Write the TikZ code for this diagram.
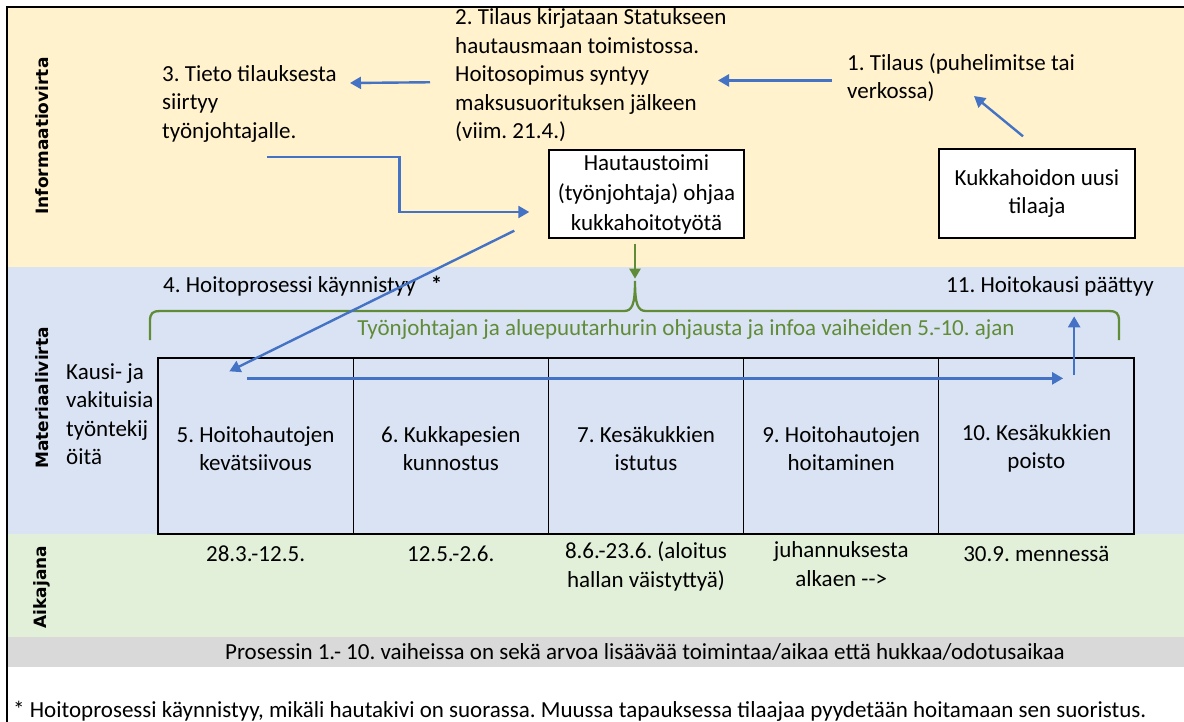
\documentclass[tikz,border=0pt]{standalone}
\usepackage{fontspec}
\setmainfont{Carlito}
\newfontfamily\bandfont{DejaVu Sans}
\usepackage{xcolor}
\usetikzlibrary{positioning, arrows.meta}
\frenchspacing

\definecolor{infoyellow}{HTML}{FFF2CC}
\definecolor{matblue}{HTML}{DAE3F3}
\definecolor{timegreen}{HTML}{E2F0D9}
\definecolor{notegray}{HTML}{D9D9D9}
\definecolor{flowblue}{HTML}{4472C4}
\definecolor{guidegreen}{RGB}{96,140,56}

\begin{document}
\begin{tikzpicture}[
  x=1pt, y=-1pt,
  font=\fontsize{23}{28.5}\selectfont,
  txt/.style={inner sep=0pt, align=left, anchor=north west, execute at begin node=\strut},
  band/.style={font=\bandfont\bfseries\fontsize{17}{20}\selectfont, rotate=90},
  box/.style={rectangle, draw, line width=1.4pt, fill=white, align=center, minimum width=195pt, minimum height=88pt, inner sep=0pt},
  stepbox/.style={rectangle, draw, line width=1.3pt, minimum width=195.2pt, minimum height=176pt, inner sep=0pt},
  steptxt/.style={align=center, inner sep=0pt},
  datetxt/.style={align=center, inner sep=0pt, execute at begin node=\strut},
  flow/.style={draw=flowblue, line width=2.4pt, -{Triangle[width=12pt,length=11pt]}},
  guide/.style={draw=guidegreen, line width=2.3pt}
]
\useasboundingbox (0,0) rectangle (1184,722);

% Draw background bands
\fill[infoyellow] (7,7) rectangle (1184,267);
\fill[matblue] (7,267) rectangle (1184,534);
\fill[timegreen] (7,534) rectangle (1184,637);
\fill[notegray] (7,637) rectangle (1184,667);
\draw[line width=1.5pt] (7,722) -- (7,7) -- (1184,7);

\node[band] (infoband) at (42,136) {Informaatiovirta};
\node[band] (matband) at (42,398) {Materiaalivirta};
\node[band] (timeband) at (42,587) {Aikajana};

% Draw process steps and their dates
\foreach \step/\when [count=\i] in {
  {5. Hoitohautojen\\kevätsiivous}/{28.3.-12.5.},
  {6. Kukkapesien\\kunnostus}/{12.5.-2.6.},
  {7. Kesäkukkien\\istutus}/{8.6.-23.6. (aloitus\\hallan väistyttyä)},
  {9. Hoitohautojen\\hoitaminen}/{juhannuksesta\\alkaen -{}->},
  {10. Kesäkukkien\\poisto}/{30.9. mennessä}} {
  \node[stepbox] at (158+195.2*\i-97.6, 446) (s\i) {};
  \node[steptxt] at ([yshift=-2.5pt]s\i.center) (t\i) {\step};
  \node[datetxt, below=7pt of s\i] (d\i) {\when};
}

% Information flow texts and boxes
\node[txt] (order2) at (455,8.8) {2. Tilaus kirjataan Statukseen\\hautausmaan toimistossa.\\Hoitosopimus syntyy\\maksusuorituksen jälkeen\\(viim. 21.4.)};
\node[txt] (info3) at (162,65.3) {3. Tieto tilauksesta\\siirtyy\\työnjohtajalle.};
\node[txt] (order1) at (847,53.3) {1. Tilaus (puhelimitse tai\\verkossa)};
\node[box, font=\fontsize{23}{30}\selectfont] (hautaus) at (646.5,194) {Hautaustoimi\\(työnjohtaja) ohjaa\\kukkahoitotyötä};
\node[box, minimum width=196pt, minimum height=89pt] (tilaaja) at (1037,193.5) {Kukkahoidon uusi\\tilaaja};

% Material flow texts
\node[txt] (start4) at (163,272.3) {4. Hoitoprosessi käynnistyy\hspace{15pt}\textbf{*}};
\node[txt] (end11) at (946,272.3) {11. Hoitokausi päättyy};
\node[txt, anchor=north, text=guidegreen] (guidetext) at (686,315.3) {Työnjohtajan ja aluepuutarhurin ohjausta ja infoa vaiheiden 5.-10. ajan};
\node[txt] (staff) at (66,363.3) {Kausi- ja\\vakituisia\\työntekij\\öitä};

% Notes at the bottom
\node[txt, anchor=north] (waste) at (645,639.3) {Prosessin 1.- 10. vaiheissa on sekä arvoa lisäävää toimintaa/aikaa että hukkaa/odotusaikaa};
\node[txt] (note) at (13,697.5) {* Hoitoprosessi käynnistyy, mikäli hautakivi on suorassa. Muussa tapauksessa tilaajaa pyydetään hoitamaan sen suoristus.};

% Guidance brace
\draw[guide] (150,340) -- (150,321) .. controls (150,313) and (153,311) .. (160,311)
  -- (624,311) .. controls (632,311) and (635,305) .. (635,281)
  .. controls (635,305) and (638,311) .. (646,311) -- (1109,311)
  .. controls (1116,311) and (1119,313) .. (1119,321) -- (1119,340);
\draw[guide, -{Triangle[width=11pt,length=10pt]}] ([xshift=-11.5pt,yshift=-5pt]hautaus.south) -- ([xshift=-11.5pt,yshift=-40pt]hautaus.south);

% Arrows between the phases
\coordinate (tip1) at (974,96);
\coordinate (tip3) at (350,83);
\draw[flow] ([xshift=-14pt,yshift=12pt]tilaaja.north) -- (tip1);
\draw[flow] ([xshift=-15pt]order1.west) -- ([xshift=-129pt]order1.west);
\draw[flow] ([xshift=-25pt,yshift=-4pt]order2.west) -- (tip3);
\draw[flow] ([xshift=105pt,yshift=-10pt]info3.south west) -| ([xshift=-149pt,yshift=-18pt]hautaus.west) -- ([xshift=-19pt,yshift=-18pt]hautaus.west);
\draw[flow] ([xshift=-34pt,yshift=8pt]hautaus.south west) -- ([xshift=72pt,yshift=-14pt]s1.north west);
\draw[flow] ([xshift=90pt,yshift=-21pt]s1.north west) -- ([xshift=125pt,yshift=-21pt]s5.north west);
\draw[flow] ([xshift=136pt,yshift=-18pt]s5.north west) -- ([xshift=136pt,yshift=41pt]s5.north west);

\end{tikzpicture}
\end{document}
